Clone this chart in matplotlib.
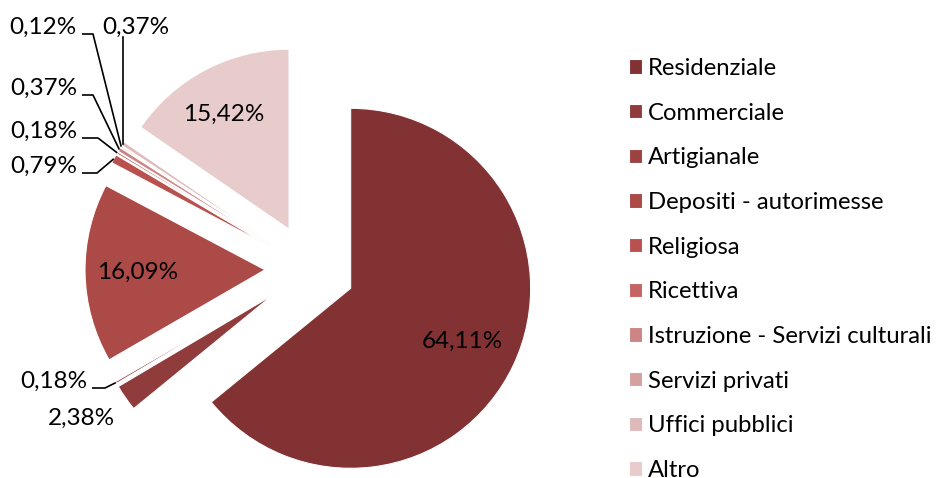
import numpy as np
import matplotlib
matplotlib.use("Agg")
import matplotlib.pyplot as plt

categories = ["Residenziale", "Commerciale", "Artigianale", "Depositi - autorimesse",
              "Religiosa", "Ricettiva", "Istruzione - Servizi culturali",
              "Servizi privati", "Uffici pubblici", "Altro"]
values = [64.11, 2.38, 0.18, 16.09, 0.79, 0.18, 0.37, 0.12, 0.37, 15.42]
labels = ["64,11%", "2,38%", "0,18%", "16,09%", "0,79%", "0,18%", "0,37%", "0,12%", "0,37%", "15,42%"]
colors = ["#833234", "#903c3c", "#9c4241", "#ab4a47", "#b9524f", "#c46563",
          "#cc8584", "#d5a0a0", "#dfbaba", "#e8cbcb"]

plt.rcParams['font.family'] = ['Lato', 'DejaVu Sans']

W, H = 937, 478
fig = plt.figure(figsize=(W / 100, H / 100), dpi=100)
ax = fig.add_axes([0, 0, 1, 1])

cx, cy = 310, H - 269
R = 180
expl = 45

wedges, _ = ax.pie(values, colors=colors, startangle=90, counterclock=False,
                   center=(cx, cy), radius=R, explode=[expl] * len(values),
                   wedgeprops=dict(edgecolor='white', linewidth=0.8), frame=True)
ax.set_xlim(0, W)
ax.set_ylim(0, H)
ax.set_aspect('equal')
ax.axis('off')

fs = 17.5
# inside labels
for i, f, dx in [(0, 0.69, 0), (3, 0.71, 0), (9, 0.72, -5)]:
    w = wedges[i]
    th = np.deg2rad(0.5 * (w.theta1 + w.theta2))
    x0, y0 = w.center
    ax.text(x0 + f * R * np.cos(th) + dx, y0 + f * R * np.sin(th), labels[i],
            ha='center', va='center', fontsize=fs, color='black')

# outside labels with leader lines
outside = {
    2: dict(tx=87, ty=381, ex=105),
    4: dict(tx=77, ty=166, ex=97),
    5: dict(tx=77, ty=131, ex=98),
    6: dict(tx=77, ty=88, ex=93),
    7: dict(tx=77, ty=27, ex=93),
}
for i, o in outside.items():
    w = wedges[i]
    th = np.deg2rad(0.5 * (w.theta1 + w.theta2))
    x0, y0 = w.center
    px, py = x0 + R * np.cos(th), y0 + R * np.sin(th)
    ty = H - o['ty']
    ly = ty - 7
    ax.text(o['tx'], ty, labels[i], ha='right', va='center', fontsize=fs)
    ax.plot([o['tx'] + 5, o['ex'], px], [ly, ly, py], color='black', lw=1.2,
            solid_capstyle='butt')

# Uffici pubblici: vertical line
w = wedges[8]
th = np.deg2rad(0.5 * (w.theta1 + w.theta2))
x0, y0 = w.center
px, py = x0 + R * np.cos(th), y0 + R * np.sin(th)
ax.text(102, H - 27, labels[8], ha='left', va='center', fontsize=fs)
ax.plot([px, px], [H - 37, py], color='black', lw=1.2)

# Commerciale label without line
ax.text(115, H - 418, labels[1], ha='right', va='center', fontsize=fs)

leg = ax.legend(wedges, categories, loc='upper left', bbox_to_anchor=(629 / W, 1 - 58 / H),
                frameon=False, fontsize=17.2, handlelength=0.55, handleheight=0.55,
                handletextpad=0.25, labelspacing=0.99, borderaxespad=0, borderpad=0)

fig.savefig("out.png", dpi=100)
